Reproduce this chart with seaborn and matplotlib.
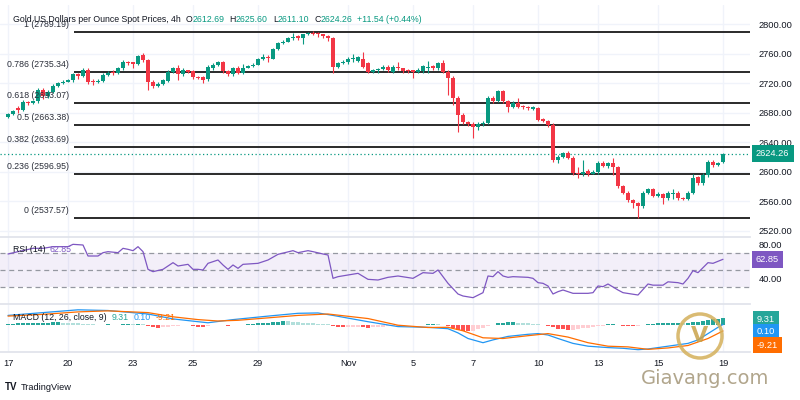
import matplotlib
matplotlib.use("Agg")
import numpy as np
import pandas as pd
import matplotlib.pyplot as plt
import seaborn as sns
from matplotlib.patches import Ellipse

# 4h gold candles, Oct 17 -> Nov 19 (one entry per bar)
opens = [2674, 2678, 2686, 2684, 2694, 2693, 2695, 2710, 2702, 2708, 2716, 2720,
         2722, 2724, 2732, 2730, 2738, 2723, 2721, 2723, 2731, 2735, 2733, 2740,
         2749, 2748, 2746, 2758, 2751, 2722, 2716, 2719, 2723, 2735, 2740, 2732,
         2737, 2736, 2728, 2728, 2725, 2740, 2745, 2748, 2736, 2732, 2741, 2734,
         2741, 2743, 2745, 2752, 2755, 2753, 2766, 2774, 2776, 2781, 2784, 2781,
         2786, 2788, 2787, 2786, 2784, 2781, 2742, 2747, 2748, 2752, 2750, 2753,
         2747, 2735, 2737, 2739, 2742, 2735, 2742, 2740, 2737, 2737, 2735, 2736,
         2741, 2743, 2740, 2747, 2735, 2727, 2700, 2677, 2667, 2665, 2660, 2664,
         2666, 2700, 2696, 2709, 2695, 2688, 2693, 2688, 2687, 2685, 2686, 2671,
         2669, 2663, 2615, 2620, 2625, 2619, 2598, 2596, 2601, 2597, 2599, 2612,
         2607, 2611, 2606, 2580, 2571, 2561, 2557, 2553, 2571, 2576, 2567, 2569,
         2564, 2570, 2571, 2564, 2563, 2571, 2592, 2584, 2595, 2613, 2609, 2612.69]
highs = [2680, 2684, 2689, 2697, 2696, 2697, 2713, 2713, 2710, 2718, 2722, 2724,
         2726, 2734, 2734, 2740, 2740, 2726, 2725, 2733, 2736, 2738, 2742, 2751,
         2750, 2749, 2758, 2761, 2753, 2724, 2721, 2726, 2737, 2742, 2745, 2740,
         2738, 2738, 2730, 2729, 2744, 2747, 2750, 2750, 2738, 2742, 2743, 2746,
         2745, 2747, 2754, 2760, 2758, 2768, 2776, 2778, 2783, 2788, 2785, 2787,
         2789, 2790, 2789, 2787, 2785, 2783, 2749, 2751, 2755, 2759, 2757, 2762,
         2749, 2739, 2741, 2744, 2744, 2744, 2748, 2741, 2739, 2738, 2741, 2745,
         2750, 2744, 2749, 2751, 2737, 2729, 2702, 2679, 2669, 2667, 2667, 2668,
         2702, 2703, 2711, 2711, 2697, 2695, 2700, 2690, 2689, 2689, 2688, 2673,
         2670, 2666, 2622, 2627, 2628, 2621, 2606, 2616, 2603, 2602, 2614, 2614,
         2613, 2618, 2608, 2582, 2573, 2563, 2559, 2573, 2578, 2578, 2572, 2571,
         2573, 2576, 2573, 2566, 2573, 2596, 2594, 2598, 2615, 2616, 2613, 2625.60]
lows = [2672, 2676, 2679, 2682, 2690, 2691, 2693, 2699, 2700, 2706, 2714, 2719,
        2721, 2722, 2726, 2728, 2719, 2717, 2720, 2721, 2729, 2731, 2732, 2738,
        2745, 2740, 2745, 2749, 2710, 2713, 2714, 2717, 2721, 2733, 2724, 2730,
        2733, 2725, 2725, 2720, 2723, 2738, 2743, 2734, 2729, 2730, 2732, 2732,
        2740, 2742, 2744, 2751, 2748, 2752, 2765, 2773, 2775, 2779, 2779, 2773,
        2785, 2785, 2783, 2781, 2777, 2734, 2740, 2746, 2746, 2748, 2748, 2740,
        2733, 2734, 2733, 2737, 2735, 2733, 2737, 2734, 2734, 2727, 2733, 2734,
        2734, 2738, 2738, 2733, 2704, 2690, 2654, 2664, 2662, 2645, 2656, 2662,
        2664, 2693, 2694, 2693, 2681, 2686, 2686, 2685, 2684, 2683, 2668, 2667,
        2660, 2613, 2611, 2618, 2617, 2595, 2591, 2594, 2594, 2596, 2597, 2606,
        2605, 2595, 2578, 2569, 2559, 2551, 2537, 2551, 2569, 2565, 2565, 2556,
        2562, 2563, 2562, 2561, 2561, 2569, 2582, 2582, 2593, 2606, 2608, 2611.10]
closes = [2678, 2682, 2684, 2694, 2693, 2695, 2710, 2702, 2708, 2716, 2720, 2722,
          2724, 2732, 2730, 2738, 2722, 2721, 2723, 2731, 2734, 2733, 2740, 2749,
          2747, 2746, 2757, 2751, 2721, 2716, 2719, 2724, 2735, 2740, 2732, 2737,
          2735, 2728, 2727, 2724, 2742, 2745, 2748, 2736, 2732, 2740, 2734, 2741,
          2743, 2745, 2752, 2755, 2754, 2766, 2774, 2776, 2781, 2783, 2781, 2786,
          2788, 2787, 2786, 2784, 2781, 2742, 2747, 2749, 2753, 2754, 2755, 2742,
          2735, 2737, 2739, 2742, 2737, 2742, 2740, 2736, 2736, 2735, 2737, 2743,
          2742, 2740, 2747, 2735, 2727, 2700, 2677, 2667, 2665, 2660, 2665, 2666,
          2700, 2695, 2709, 2695, 2688, 2693, 2688, 2687, 2686, 2687, 2670, 2669,
          2663, 2616, 2620, 2625, 2619, 2598, 2596, 2599, 2597, 2600, 2612, 2608,
          2611, 2606, 2580, 2571, 2561, 2557, 2553, 2571, 2576, 2567, 2569, 2564,
          2571, 2571, 2564, 2563, 2571, 2591, 2584, 2595, 2613, 2609, 2611, 2624.26]

date_pos = [0, 12, 25, 37, 50, 68, 81, 93, 106, 118, 130, 143]
date_labels = ["17", "20", "23", "25", "29", "Nov", "5", "7", "10", "13", "15", "19"]
price_ticks = [2520, 2560, 2600, 2640, 2680, 2720, 2760, 2800]

fib_ratios = ["1", "0.786", "0.618", "0.5", "0.382", "0.236", "0"]
fib_levels = [2789.19, 2735.34, 2693.07, 2663.38, 2633.69, 2596.95, 2537.57]

# RSI(14)
rsi_bar = [0, 2, 5, 7, 9, 12, 13, 15, 16, 18, 19, 20, 22, 23, 24, 25, 26, 27, 28, 29,
           31, 33, 34, 36, 37, 38, 39, 40, 42, 43, 44, 45, 46, 47, 50, 52, 54, 57, 58, 60,
           61, 63, 64, 65, 66, 68, 70, 72, 74, 76, 77, 78, 81, 83, 85, 86, 87, 88, 90, 91,
           93, 95, 96, 97, 98, 99, 100, 101, 104, 105, 106, 107, 108, 109, 110, 111, 113, 116, 117, 118,
           119, 120, 122, 123, 126, 128, 129, 131, 132, 134, 135, 136, 137, 138, 140, 141, 143]
rsi_val = [69.2, 72, 76, 76, 78, 78, 80.8, 80, 66.8, 66.8, 70.8, 72, 70.8, 76, 74.8, 73.2, 78, 72, 50.8, 48,
           50.8, 58.8, 54.8, 56.8, 50.8, 50.8, 50, 58, 62, 56, 50.8, 56, 52, 56.8, 58, 62, 68.8, 73.2, 70.8, 73.2,
           72, 69.2, 68, 40, 42, 44, 46, 38.8, 38, 41.2, 42, 42.8, 40, 46.8, 46, 50, 42, 34, 21.2, 18.8,
           16.8, 22.8, 42.8, 42, 48, 42.8, 41.2, 42, 41.2, 40, 34.8, 34, 30.8, 21.2, 24, 26, 22, 22, 22.8, 30.8,
           30, 33.2, 26, 22.8, 20, 33.2, 31.8, 31.8, 35.8, 34.8, 33.2, 40, 49.2, 46.8, 58.8, 58, 62.85]

# MACD (12, 26, 9)
macd_bar = [0, 7, 14, 20, 28, 33, 38, 40, 45, 52, 58, 62, 65, 72, 78, 84, 88, 90, 92, 95,
            97, 100, 104, 106, 108, 110, 113, 116, 120, 123, 126, 128, 131, 134, 136, 138, 140, 142, 143]
macd_val = [13, 17, 21, 20, 15, 8, 4, 2.5, 7, 12, 16, 16.5, 13, 4, -3, -4, -6, -12, -20, -26,
            -22, -17, -14, -13, -15, -20, -27, -31, -33, -34, -36, -35, -32, -29, -27, -22, -13, -4, 0.10]
signal_bar = [0, 7, 14, 20, 28, 33, 38, 42, 46, 52, 58, 64, 72, 78, 84, 88, 91, 95, 99, 104,
              108, 112, 116, 120, 124, 128, 132, 136, 140, 143]
signal_val = [12, 14.5, 18, 19.5, 17, 11, 7, 5, 6, 9.5, 13, 15, 8.5, -1, -4.3, -4, -9, -19, -20, -16,
              -13, -18, -26, -31, -32, -35.5, -33.5, -30, -20, -9.21]
hist_val = [1.0, 1.2, 1.5, 1.5, 1.8, 2.0, 2.2, 2.5, 2.8, 3.0, 3.0, 2.6,
            2.2, 1.8, 1.5, 1.0, 0.5, 0.2, -0.8, -0.3, 0.2, -0.8, -0.6, 0.5,
            0.8, 0.6, 0.8, 0.4, -2.5, -4.0, -4.5, -4.2, -3.8, -2.8, -2.0, -1.4,
            -0.8, -2.5, -3.0, -3.2, -1.8, -1.0, -0.4, -0.3, -1.5, -1.2, -1.0, -0.2,
            0.5, 1.0, 1.5, 2.0, 2.5, 3.5, 4.2, 4.5, 4.3, 3.8, 3.2, 2.5,
            2.0, 1.5, 1.2, 0.8, 0.3, -2.0, -3.5, -4.0, -3.6, -3.2, -3.0, -3.8,
            -4.5, -4.0, -3.5, -3.0, -2.6, -2.2, -1.8, -1.5, -1.2, -1.0, -0.7, -0.3,
            0.3, 0.6, 0.4, -0.5, -2.5, -5.0, -7.5, -9.0, -9.8, -9.0, -7.0, -4.5,
            -2.5, -0.8, 1.5, 2.5, 3.0, 3.2, 2.8, 2.2, 1.5, 0.8, 0.2, -0.8,
            -2.0, -4.0, -6.0, -7.0, -7.5, -7.2, -6.5, -5.5, -4.5, -3.5, -2.5, -1.5,
            0.5, 0.8, -1.2, -1.8, -2.2, -2.5, -1.5, -0.2, 0.8, 1.2, 1.6, 2.0,
            2.2, 2.6, 2.8, 2.4, 2.6, 3.5, 4.2, 5.0, 6.2, 7.2, 8.3, 9.31]

last_price = 2624.26

UP = "#089981"
DOWN = "#F23645"
DARK = "#131722"
GRID = "#F0F3FA"
SEP = "#E0E3EB"
SMALL = 6.3   # legends, fib labels
AXIS = 6.7    # price / time scale

sns.set_theme(style="white")
plt.rcParams["font.family"] = ["Liberation Sans", "DejaVu Sans"]

fig = plt.figure(figsize=(8, 4), dpi=100)
W, H = 800, 400


def frac(x_px, y_px):
    return x_px / W, 1 - y_px / H


ax = fig.add_axes([0, 1 - 237 / H, 750 / W, 232 / H])
ax_rsi = fig.add_axes([0, 1 - 304 / H, 750 / W, 67 / H])
ax_macd = fig.add_axes([0, 1 - 352 / H, 750 / W, 48 / H])

for a in (ax, ax_rsi, ax_macd):
    a.set_xlim(-1.6, 148.4)
    a.set_xticks(date_pos)
    a.grid(axis="x", color=GRID, lw=1)
    a.set_axisbelow(True)
    for s in a.spines.values():
        s.set_visible(False)
    a.set_facecolor("white")

# ---- price pane ----
df = pd.DataFrame({"open": opens, "high": highs, "low": lows, "close": closes})
df["bar"] = np.arange(len(df))
colors = np.where(df["close"] >= df["open"], UP, DOWN)
body = (df["close"] - df["open"]).abs().clip(lower=1.3)
ax.vlines(df["bar"], df["low"], df["high"], colors=colors, lw=0.8, zorder=4)
ax.bar(df["bar"], body, bottom=df[["open", "close"]].min(axis=1), width=0.64,
       color=colors, linewidth=0, zorder=5)

ax.set_ylim(2511.2, 2825.8)
ax.set_yticks(price_ticks)
ax.set_yticklabels([f"{p:.2f}" for p in price_ticks])
ax.yaxis.tick_right()
ax.grid(axis="y", color=GRID, lw=1)
ax.tick_params(axis="y", length=0, pad=6, labelsize=AXIS, labelcolor=DARK)
ax.tick_params(axis="x", length=0, labelbottom=False)

ax.hlines(fib_levels, 13.2, 148.4, color="#2a2a2a", lw=1.4, zorder=3)
for r, lvl in zip(fib_ratios, fib_levels):
    ax.text(12.2, lvl + 9.9, f"{r} ({lvl:.2f})", ha="right", va="center",
            fontsize=SMALL, color="#2a2e39", zorder=6)

ax.axhline(last_price, color=UP, ls=(0, (1, 2)), lw=0.9, zorder=2)
ax.text(1 + 6 / 750, last_price, f"{last_price:.2f}", transform=ax.get_yaxis_transform(),
        ha="left", va="center", fontsize=AXIS, color="white", clip_on=False,
        bbox=dict(boxstyle="square,pad=0.45", fc=UP, ec="none"))

# ---- RSI pane ----
ax_rsi.set_ylim(9.2, 89.6)
ax_rsi.axhspan(30, 70, color="#7E57C2", alpha=0.09, lw=0)
for lvl in (70, 50, 30):
    ax_rsi.axhline(lvl, color="#9598A1", ls=(0, (4, 3)), lw=0.9)
sns.lineplot(x=rsi_bar, y=rsi_val, ax=ax_rsi, color="#7E57C2", lw=0.9)
ax_rsi.set_yticks([40, 80])
ax_rsi.set_yticklabels(["40.00", "80.00"])
ax_rsi.yaxis.tick_right()
ax_rsi.tick_params(axis="y", length=0, pad=6, labelsize=AXIS, labelcolor=DARK)
ax_rsi.tick_params(axis="x", length=0, labelbottom=False)
ax_rsi.spines["top"].set_visible(True)
ax_rsi.spines["top"].set_color(SEP)
ax_rsi.text(1 + 6 / 750, rsi_val[-1], f"{rsi_val[-1]:.2f}", transform=ax_rsi.get_yaxis_transform(),
            ha="left", va="center", fontsize=AXIS, color="white", clip_on=False,
            bbox=dict(boxstyle="square,pad=0.45", fc="#7E57C2", ec="none"))

# ---- MACD pane ----
ax_macd.set_ylim(-39.3, 29.3)
hist_colors = []
for k, v in enumerate(hist_val):
    prev = hist_val[k - 1] if k > 0 else v
    if v >= 0:
        hist_colors.append("#26A69A" if v >= prev else "#B2DFDB")
    else:
        hist_colors.append("#FFCDD2" if v >= prev else "#FF5252")
ax_macd.bar(np.arange(len(hist_val)), hist_val, width=0.7, color=hist_colors, linewidth=0)
sns.lineplot(x=macd_bar, y=macd_val, ax=ax_macd, color="#2196F3", lw=0.9)
sns.lineplot(x=signal_bar, y=signal_val, ax=ax_macd, color="#FF6D00", lw=0.9)
ax_macd.set_yticks([])
ax_macd.set_ylabel("")
ax_macd.set_xticklabels(date_labels)
ax_macd.tick_params(axis="x", length=0, pad=5, labelsize=AXIS, labelcolor=DARK)
ax_macd.spines["top"].set_visible(True)
ax_macd.spines["top"].set_color(SEP)
ax_macd.spines["bottom"].set_visible(True)
ax_macd.spines["bottom"].set_color(SEP)
for txt, ypx, col in [("9.31", 319, "#26A69A"), ("0.10", 332, "#2196F3"), ("-9.21", 345, "#FF6D00")]:
    fx, fy = frac(757, ypx)
    fig.text(fx, fy, txt, ha="left", va="center", fontsize=AXIS, color="white",
             bbox=dict(boxstyle="square,pad=0.4", fc=col, ec="none"))

# ---- legends ----
renderer = fig.canvas.get_renderer()


def draw_parts(x_px, y_px, parts, size=SMALL):
    x = x_px
    for s, c, gap in parts:
        fx, fy = frac(x, y_px)
        t = fig.text(fx, fy, s, color=c, fontsize=size, ha="left", va="center", zorder=10)
        x += t.get_window_extent(renderer=renderer).width + gap


draw_parts(13, 19, [("Gold US Dollars per Ounce Spot Prices, 4h", DARK, 5),
                    ("O", DARK, 0), ("2612.69", UP, 5),
                    ("H", DARK, 0), ("2625.60", UP, 5),
                    ("L", DARK, 0), ("2611.10", UP, 5),
                    ("C", DARK, 0), ("2624.26", UP, 5),
                    ("+11.54 (+0.44%)", UP, 0)])
draw_parts(13, 250, [("RSI (14)", DARK, 4), ("62.85", "#7E57C2", 0)])
draw_parts(13, 317, [("MACD (12, 26, close, 9)", DARK, 5), ("9.31", "#26A69A", 5),
                     ("0.10", "#2196F3", 5), ("-9.21", "#FF6D00", 0)])

# ---- footer / watermark ----
fx, fy = frac(5, 387)
fig.text(fx, fy, "TV", fontsize=7, fontweight="bold", color=DARK, va="center")
fx, fy = frac(21, 387)
fig.text(fx, fy, "TradingView", fontsize=6.7, color=DARK, va="center")

cx, cy = frac(700, 336)
fig.add_artist(Ellipse((cx, cy), 44 / W, 44 / H, transform=fig.transFigure,
                       fill=False, ec="#D4B05A", lw=2.5, alpha=0.85))
fig.text(cx, cy, "V", fontsize=16, fontweight="bold", color="#C9A24A", alpha=0.85,
         ha="center", va="center", family="DejaVu Sans")
fx, fy = frac(705, 379)
fig.text(fx, fy, "Giavang.com", fontsize=14, color="#A99C80", ha="center", va="center",
         family="DejaVu Sans", alpha=0.9)

fig.savefig("out.png", dpi=100, facecolor="white")
